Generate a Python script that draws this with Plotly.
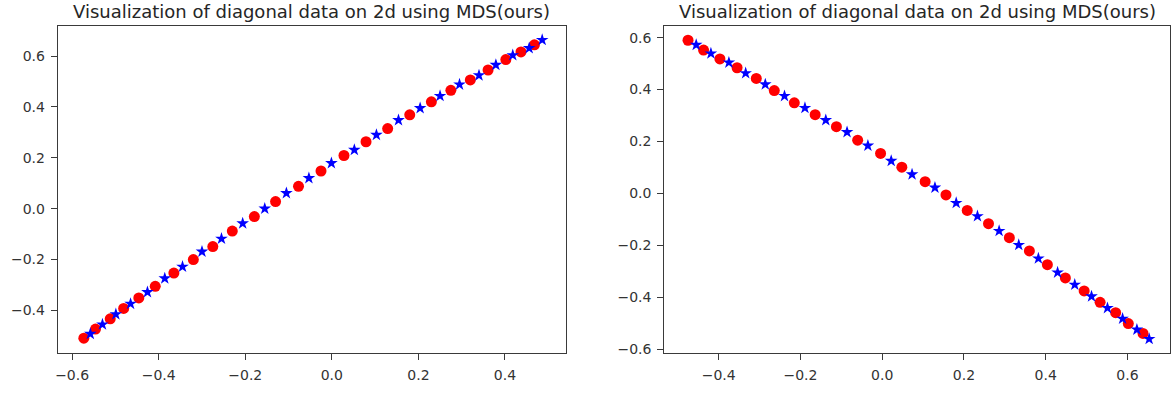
import plotly.graph_objects as go

TITLE = "Visualization of diagonal data on 2d using MDS(ours)"

# Left panel
left_red_x = [-0.573, -0.546, -0.512, -0.481, -0.446, -0.408, -0.365, -0.320, -0.275, -0.230, -0.179, -0.130,
              -0.077, -0.025, 0.028, 0.079, 0.129, 0.180, 0.230, 0.275, 0.320, 0.361, 0.402, 0.437, 0.468]
left_red_y = [-0.509, -0.473, -0.433, -0.392, -0.351, -0.305, -0.253, -0.200, -0.149, -0.088, -0.031, 0.028,
              0.088, 0.148, 0.209, 0.263, 0.315, 0.369, 0.420, 0.465, 0.506, 0.545, 0.586, 0.616, 0.644]
left_blue_x = [-0.558, -0.530, -0.499, -0.465, -0.426, -0.386, -0.345, -0.300, -0.255, -0.206, -0.155,
               -0.105, -0.053, -0.001, 0.052, 0.103, 0.154, 0.204, 0.250, 0.295, 0.340, 0.379, 0.418, 0.456, 0.486]
left_blue_y = [-0.492, -0.455, -0.415, -0.374, -0.328, -0.274, -0.228, -0.169, -0.118, -0.058, 0.000,
               0.061, 0.120, 0.179, 0.231, 0.290, 0.348, 0.395, 0.443, 0.488, 0.524, 0.565, 0.603, 0.631, 0.663]

# Right panel
right_red_x = [-0.475, -0.437, -0.397, -0.355, -0.308, -0.264, -0.215, -0.164, -0.112, -0.060, -0.004, 0.048,
               0.105, 0.156, 0.208, 0.260, 0.311, 0.360, 0.404, 0.448, 0.494, 0.533, 0.571, 0.602, 0.638]
right_red_y = [0.590, 0.552, 0.518, 0.484, 0.443, 0.396, 0.349, 0.303, 0.257, 0.205, 0.154, 0.101,
               0.045, -0.006, -0.066, -0.117, -0.171, -0.222, -0.275, -0.326, -0.376, -0.420, -0.460, -0.502, -0.540]
right_blue_x = [-0.455, -0.419, -0.375, -0.334, -0.286, -0.239, -0.189, -0.138, -0.086, -0.035, 0.022, 0.073,
                0.129, 0.181, 0.233, 0.286, 0.334, 0.382, 0.429, 0.471, 0.512, 0.551, 0.588, 0.623, 0.653]
right_blue_y = [0.572, 0.539, 0.504, 0.463, 0.420, 0.375, 0.329, 0.282, 0.236, 0.184, 0.125, 0.073,
                0.022, -0.037, -0.088, -0.145, -0.199, -0.251, -0.305, -0.352, -0.397, -0.442, -0.483, -0.525, -0.561]

left_xticks = [-0.6, -0.4, -0.2, 0.0, 0.2, 0.4]
left_yticks = [-0.4, -0.2, 0.0, 0.2, 0.4, 0.6]
right_xticks = [-0.4, -0.2, 0.0, 0.2, 0.4, 0.6]
right_yticks = [-0.6, -0.4, -0.2, 0.0, 0.2, 0.4, 0.6]

W, H = 1175, 394
fig = go.Figure()

star = dict(symbol="star", size=9.5, color="#0000ff", line=dict(width=0))
circ = dict(symbol="circle", size=11, color="#ff0000", line=dict(width=0))

fig.add_trace(go.Scatter(x=left_red_x, y=left_red_y, mode="markers", marker=circ, xaxis="x", yaxis="y"))
fig.add_trace(go.Scatter(x=left_blue_x, y=left_blue_y, mode="markers", marker=star, xaxis="x", yaxis="y"))
fig.add_trace(go.Scatter(x=right_red_x, y=right_red_y, mode="markers", marker=circ, xaxis="x2", yaxis="y2"))
fig.add_trace(go.Scatter(x=right_blue_x, y=right_blue_y, mode="markers", marker=star, xaxis="x2", yaxis="y2"))

def tickfmt(v):
    s = f"{abs(v):.1f}"
    return ("\u2212" + s) if v < 0 else s

axis_common = dict(showgrid=False, zeroline=False, showline=True, mirror=True,
                   linecolor="#3a3a3a", linewidth=1.2, ticks="outside", ticklen=6,
                   tickcolor="#3a3a3a", tickfont=dict(family="DejaVu Sans", size=14, color="#333333"))

top, bottom = 26.5, 356.3
ydom = [1 - bottom / H, 1 - top / H]

L1, R1 = 55, 564
L2, R2 = 663, 1170

fig.update_layout(
    width=W, height=H, margin=dict(l=0, r=0, t=0, b=0),
    paper_bgcolor="white", plot_bgcolor="white", showlegend=False,
    xaxis=dict(domain=[L1 / W, R1 / W], range=[-0.633, 0.540], anchor="y", ticklabelstandoff=3,
               tickvals=left_xticks, ticktext=[tickfmt(v) for v in left_xticks], **axis_common),
    yaxis=dict(domain=ydom, range=[-0.566, 0.717], anchor="x", ticklabelstandoff=3,
               tickvals=left_yticks, ticktext=[tickfmt(v) for v in left_yticks], **axis_common),
    xaxis2=dict(domain=[L2 / W, R2 / W], range=[-0.533, 0.704], anchor="y2", ticklabelstandoff=3,
                tickvals=right_xticks, ticktext=[tickfmt(v) for v in right_xticks], **axis_common),
    yaxis2=dict(domain=ydom, range=[-0.614, 0.644], anchor="x2", ticklabelstandoff=3,
                tickvals=right_yticks, ticktext=[tickfmt(v) for v in right_yticks], **axis_common),
    annotations=[
        dict(text=TITLE, x=(L1 + R1) / 2 / W, y=1 - 12 / H, xref="paper", yref="paper",
             xanchor="center", yanchor="middle", showarrow=False,
             font=dict(family="DejaVu Sans", size=18, color="#262626")),
        dict(text=TITLE, x=(L2 + R2) / 2 / W, y=1 - 12 / H, xref="paper", yref="paper",
             xanchor="center", yanchor="middle", showarrow=False,
             font=dict(family="DejaVu Sans", size=18, color="#262626")),
    ],
)

fig.write_html("out.html")
